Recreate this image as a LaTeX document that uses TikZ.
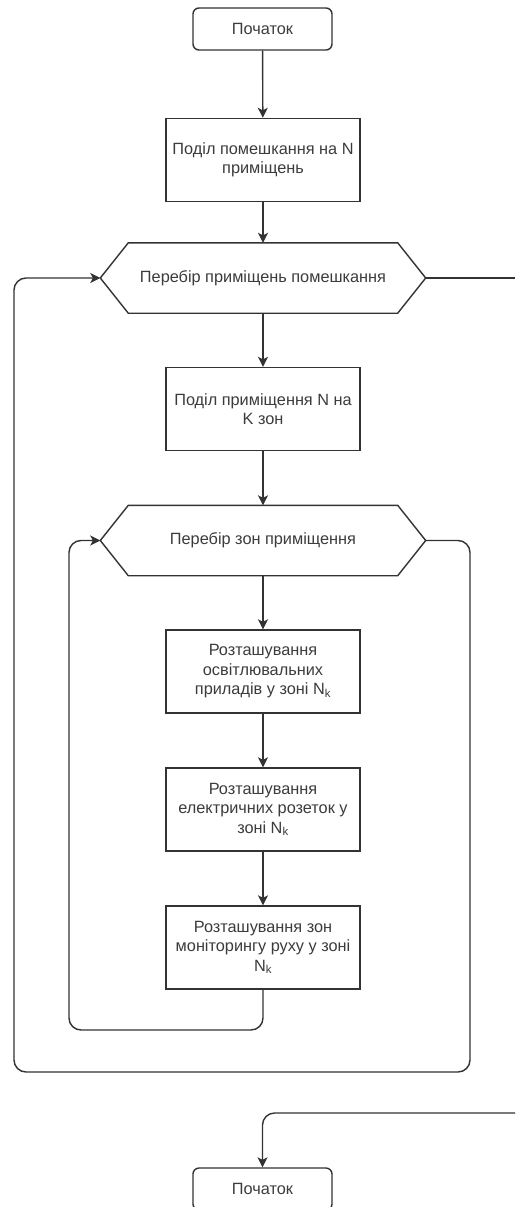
\documentclass[tikz,border=0pt]{standalone}
\usepackage{fontspec}
\setmainfont{Liberation Sans}
\usetikzlibrary{calc,arrows.meta}
\definecolor{ink}{RGB}{51,51,51}
\definecolor{txt}{RGB}{60,60,60}
\tikzset{
  base/.style={draw=ink, line width=1.4pt, text=txt, align=center,
    font=\fontsize{16.3}{19.5}\selectfont, inner sep=0pt},
  term/.style={base, rounded corners=6pt, minimum width=139pt, minimum height=42pt},
  proc/.style={base, minimum width=194pt, minimum height=83pt},
  loophead/.style={text=txt, align=center, font=\fontsize{16.3}{19.5}\selectfont,
    minimum width=325pt, minimum height=70pt, inner sep=0pt},
  hexline/.style={draw=ink, line width=1.4pt},
  flow/.style={draw=ink, line width=1.4pt, rounded corners=12pt,
    -{Stealth[length=10pt,width=10pt,inset=2.5pt]}},
  wire/.style={draw=ink, line width=1.4pt, rounded corners=12pt}
}
\newcommand{\hexframe}[1]{%
  \draw[hexline] ($(#1.north west)+(28,0)$) -- ($(#1.north east)+(-28,0)$)
    -- (#1.east) -- ($(#1.south east)+(-28,0)$) -- ($(#1.south west)+(28,0)$)
    -- (#1.west) -- cycle;}
\begin{document}
\begin{tikzpicture}[x=1pt,y=-1pt]
\useasboundingbox (0,0) rectangle (515,1207);
\fill[white] (0,0) rectangle (515,1207);

\node[term] (start) at (262.5,29) {Початок};
\node[proc] (split) at (263,160) {Поділ помешкання на N\\приміщень};
\node[loophead] (rooms) at (263,278) {Перебір приміщень помешкання};
\hexframe{rooms}
\node[proc] (zones) at (263,409) {Поділ приміщення N на\\K зон};
\node[loophead] (zloop) at (263,540.5) {Перебір зон приміщення};
\hexframe{zloop}
\node[proc] (light) at (263,671.5) {Розташування\\освітлювальних\\приладів у зоні N\textsubscript{k}};
\node[proc] (socket) at (263,809.5) {Розташування\\електричних розеток у\\зоні N\textsubscript{k}};
\node[proc] (motion) at (263,947.5) {Розташування зон\\моніторингу руху у зоні\\N\textsubscript{k}};
\node[term] (finish) at (262.5,1189) {Початок};

\coordinate (exitA) at (515,278);
\coordinate (exitB) at (515,1113);
\coordinate (innerC) at (69,1030);
\coordinate (outerR) at (470,1072);
\coordinate (outerL) at (14,1072);

\draw[flow] (start) -- (split);
\draw[flow] (split) -- (rooms);
\draw[flow] (rooms) -- (zones);
\draw[flow] (zones) -- (zloop);
\draw[flow] (zloop) -- (light);
\draw[flow] (light) -- (socket);
\draw[flow] (socket) -- (motion);
\draw[flow] (motion.south) |- (innerC) |- (zloop.west);
\draw[flow] (zloop.east) -| (outerR) -- (outerL) |- (rooms.west);
\draw[wire] (rooms.east) -- (exitA);
\draw[flow] (exitB) -| (finish.north);
\end{tikzpicture}
\end{document}
